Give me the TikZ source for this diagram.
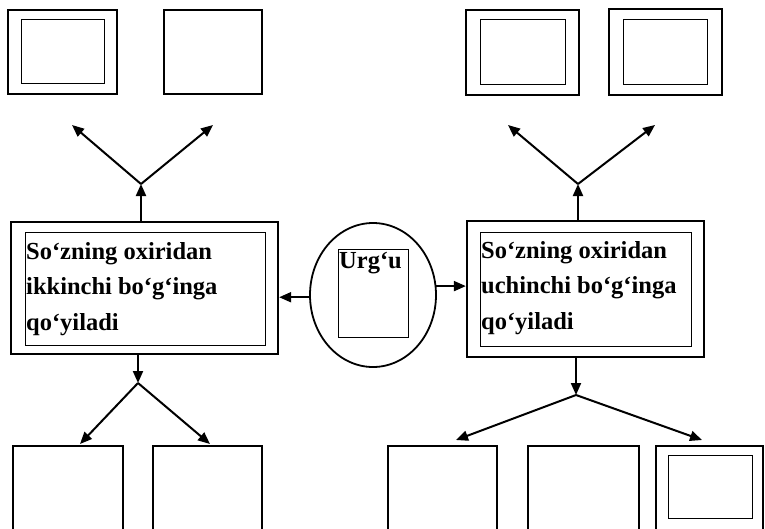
\documentclass[tikz,border=0pt]{standalone}
\usepackage{fontspec}
\setmainfont{Liberation Serif}
\usetikzlibrary{arrows.meta,shapes.geometric}

\begin{document}
\begin{tikzpicture}[x=1pt,y=-1pt,
  outerbox/.style={draw, line width=2.3pt, inner sep=0pt},
  innerbox/.style={draw, line width=0.8pt, inner sep=0pt},
  label/.style={font=\bfseries\fontsize{24.5}{35.5}\selectfont, align=left, inner sep=0pt, anchor=north west},
  arr/.style={line width=2pt, -{Triangle[length=12pt,width=10pt]}}]
\useasboundingbox (0,0) rectangle (765,528);
\clip (0,0) rectangle (765,528);

% top row
\node[outerbox, minimum width=109, minimum height=84] (t1) at (62.5,52) {};
\node[innerbox, minimum width=83, minimum height=64] (t1i) at (62.5,51) {};
\node[outerbox, minimum width=98, minimum height=84] (t2) at (213,52) {};
\node[outerbox, minimum width=113, minimum height=85] (t3) at (522.5,52.5) {};
\node[innerbox, minimum width=85, minimum height=65] (t3i) at (522.5,51.5) {};
\node[outerbox, minimum width=113, minimum height=86] (t4) at (665.5,52) {};
\node[innerbox, minimum width=84, minimum height=65] (t4i) at (665,51.5) {};

% main boxes
\node[outerbox, minimum width=267, minimum height=132] (L) at (144.5,288) {};
\node[innerbox, minimum width=240, minimum height=113] (Li) at (145,288.5) {};
\node[label] (Lt) at (26,242) {So`zning oxiridan\\ikkinchi bo`g`inga\\qo`yiladi};

\node[outerbox, minimum width=237, minimum height=136] (R) at (585.5,289) {};
\node[innerbox, minimum width=211, minimum height=114] (Ri) at (585.5,289) {};
\node[label] (Rt) at (481,241) {So`zning oxiridan\\uchinchi bo`g`inga\\qo`yiladi};

% centre
\node[ellipse, draw, line width=1.8pt, minimum width=126, minimum height=144, inner sep=0pt] (E) at (373,295) {};
\node[innerbox, minimum width=70, minimum height=88] (Ei) at (373,293) {};
\node[label] (Et) at (339,252) {Urg`u};

% bottom row
\node[outerbox, minimum width=110, minimum height=94] (b1) at (68,493) {};
\node[outerbox, minimum width=109, minimum height=94] (b2) at (207.5,493) {};
\node[outerbox, minimum width=109, minimum height=94] (b3) at (442.5,493) {};
\node[outerbox, minimum width=111, minimum height=94] (b4) at (583.5,493) {};
\node[outerbox, minimum width=107, minimum height=94] (b5) at (709.5,493) {};
\node[innerbox, minimum width=84, minimum height=63] (b5i) at (710,486.5) {};

% junctions and arrow ends
\coordinate (jl1) at (141,184);
\coordinate (jl1a) at (72,125);
\coordinate (jl1b) at (213,125);
\coordinate (jr1) at (578,184);
\coordinate (jr1a) at (508,125);
\coordinate (jr1b) at (655,125);
\coordinate (jl2) at (138,383);
\coordinate (jl2a) at (80,444);
\coordinate (jl2b) at (210,444);
\coordinate (jr2) at (576,395);
\coordinate (jr2a) at (456,440);
\coordinate (jr2b) at (702,440);

% connectors
\draw[arr] (jl1 |- L.north) -- (jl1);
\draw[arr] (jl1) -- (jl1a);
\draw[arr] (jl1) -- (jl1b);
\draw[arr] (jr1 |- R.north) -- (jr1);
\draw[arr] (jr1) -- (jr1a);
\draw[arr] (jr1) -- (jr1b);
\draw[arr] (jl2 |- L.south) -- (jl2);
\draw[arr] (jl2) -- (jl2a);
\draw[arr] (jl2) -- (jl2b);
\draw[arr] (jr2 |- R.south) -- (jr2);
\draw[arr] (jr2) -- (jr2a);
\draw[arr] (jr2) -- (jr2b);
\draw[arr] (E.182) -- (L.east |- E.182);
\draw[arr] (E.8) -- (R.west |- E.8);
\end{tikzpicture}
\end{document}
